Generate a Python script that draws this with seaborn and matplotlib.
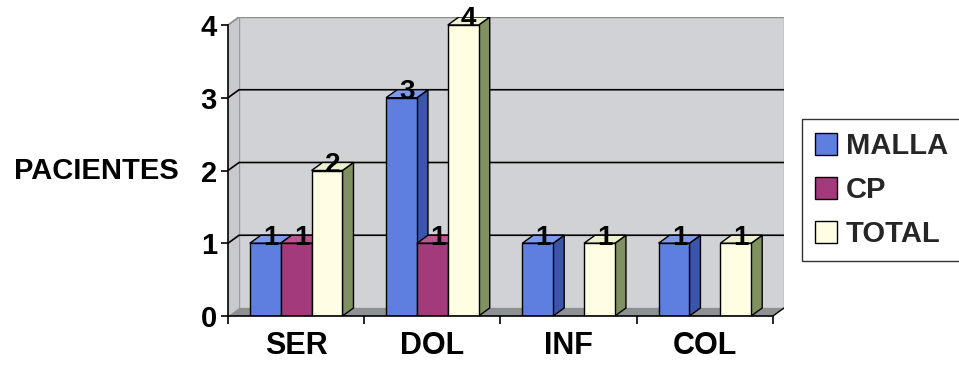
import numpy as np
import pandas as pd
import matplotlib
matplotlib.use("Agg")
import matplotlib.pyplot as plt
from matplotlib.patches import Polygon, Patch
from matplotlib.colors import to_rgba
import seaborn as sns

# Datos
categorias = ["SER", "DOL", "INF", "COL"]
series = ["MALLA", "CP", "TOTAL"]
malla = [1, 3, 1, 1]
cp = [1, 1, 0, 0]
total = [2, 4, 1, 1]
y_ticks = [0, 1, 2, 3, 4]

# Colores de las caras frontal, lateral y superior de cada serie
frente = {"MALLA": "#5f7fe0", "CP": "#a23a7c", "TOTAL": "#fffde2"}
lateral = {"MALLA": "#3b55a8", "CP": "#6e2452", "TOTAL": "#7f9160"}
techo = {"MALLA": "#7f99ea", "CP": "#b9558f", "TOTAL": "#eef0d0"}

df = pd.DataFrame({
    "categoria": categorias * len(series),
    "serie": np.repeat(series, len(categorias)),
    "pacientes": malla + cp + total,
})

sns.set_theme(style="white")
plt.rcParams["font.family"] = ["Liberation Sans", "DejaVu Sans"]
plt.rcParams["font.weight"] = "bold"

W, H = 959, 367
fig = plt.figure(figsize=(W / 100, H / 100), dpi=100)
ax = fig.add_axes([228 / W, 1 - 316 / H, 556 / W, (316 - 17) / H])

sns.barplot(data=df, x="categoria", y="pacientes", hue="serie",
            order=categorias, hue_order=series, palette=frente,
            width=0.68, saturation=1, edgecolor="black", linewidth=1.0,
            errorbar=None, legend=False, ax=ax)

# Profundidad del efecto 3D (en unidades de datos)
dx, dy = 0.081, 0.11
ax.set_xlim(-0.5, len(categorias) - 0.5 + dx)
ax.set_ylim(0, max(y_ticks) + dy)

bars = sorted(list(ax.patches), key=lambda p: p.get_x())
color_serie = {to_rgba(c): s for s, c in frente.items()}

for i, p in enumerate(bars):
    x, w, h = p.get_x(), p.get_width(), p.get_height()
    p.set_zorder(3 + 2 * i)
    if h <= 0:
        p.set_visible(False)
        continue
    s = color_serie.get(tuple(p.get_facecolor()), "MALLA")
    side = Polygon([(x + w, 0), (x + w + dx, dy), (x + w + dx, h + dy), (x + w, h)],
                   closed=True, facecolor=lateral[s], edgecolor="black",
                   linewidth=1.0, zorder=2 + 2 * i)
    top = Polygon([(x, h), (x + dx, h + dy), (x + w + dx, h + dy), (x + w, h)],
                  closed=True, facecolor=techo[s], edgecolor="black",
                  linewidth=1.0, zorder=2 + 2 * i)
    ax.add_patch(side)
    ax.add_patch(top)
    ax.text(x + w / 2 + dx / 2, h - 0.02, f"{h:g}", ha="center", va="baseline",
            fontsize=20, fontweight="bold", color="black", zorder=200)

# Paredes y suelo
x0, x1 = -0.5, len(categorias) - 0.5
ytop = max(y_ticks)
ax.add_patch(Polygon([(x0 + dx, dy), (x1 + dx, dy), (x1 + dx, ytop + dy), (x0 + dx, ytop + dy)],
                     closed=True, facecolor="#d1d2d6", edgecolor="#9a9a9a",
                     linewidth=1.0, zorder=0.5))
ax.add_patch(Polygon([(x0, 0), (x0 + dx, dy), (x0 + dx, ytop + dy), (x0, ytop)],
                     closed=True, facecolor="#c8c9cc", edgecolor="none", zorder=0.5))
ax.add_patch(Polygon([(x0, 0), (x1, 0), (x1 + dx, dy), (x0 + dx, dy)],
                     closed=True, facecolor="#8f9091", edgecolor="none", zorder=0.6))

for k in y_ticks[1:]:
    col = "black" if k < ytop else "#8a8a8a"
    ax.plot([x0, x0 + dx, x1 + dx], [k, k + dy, k + dy], color=col,
            linewidth=1.2, zorder=0.8, solid_capstyle="butt")
ax.plot([x1, x1 + dx], [0, dy], color="black", linewidth=1.0, zorder=0.9)

# Ejes
for side_name in ["top", "right"]:
    ax.spines[side_name].set_visible(False)
ax.spines["left"].set_bounds(0, ytop)
ax.spines["bottom"].set_bounds(x0, x1)
for side_name in ["left", "bottom"]:
    ax.spines[side_name].set_color("black")
    ax.spines[side_name].set_linewidth(1.2)
    ax.spines[side_name].set_zorder(150)

ax.set_yticks(y_ticks)
ax.set_yticklabels([str(t) for t in y_ticks])
ax.tick_params(axis="y", left=True, length=5, width=1.2, color="black",
               direction="out", labelsize=21, pad=3, labelcolor="black")
ax.set_xticks(range(len(categorias)))
ax.set_xticklabels(categorias)
ax.set_xticks(np.arange(x0, x1 + 0.01, 1.0), minor=True)
ax.tick_params(axis="x", which="major", bottom=True, length=0, labelsize=22,
               pad=11, labelcolor="black")
ax.tick_params(axis="x", which="minor", bottom=True, length=6, width=1.2,
               color="black", direction="out")
ax.set_xlabel("")
ax.set_ylabel("")
ax.set_facecolor("white")
ax.grid(False)

fig.text(96 / W, 1 - 171 / H, "PACIENTES", ha="center", va="center",
         fontsize=21, fontweight="bold", color="black")

# Leyenda
handles = [Patch(facecolor=frente[s], edgecolor="black", linewidth=1.0) for s in series]
leg = fig.legend(handles, series, loc="upper left",
                 bbox_to_anchor=(802 / W, 1 - 119 / H), bbox_transform=fig.transFigure,
                 frameon=True, fancybox=False, shadow=False, fontsize=21,
                 handlelength=0.75, handleheight=0.75, handletextpad=0.3,
                 borderpad=0.45, labelspacing=0.55, borderaxespad=0)
leg.get_frame().set_edgecolor("black")
leg.get_frame().set_linewidth(1.0)
leg.get_frame().set_facecolor("white")
for t in leg.get_texts():
    t.set_fontweight("bold")

fig.savefig("out.png", dpi=100, facecolor="white")
